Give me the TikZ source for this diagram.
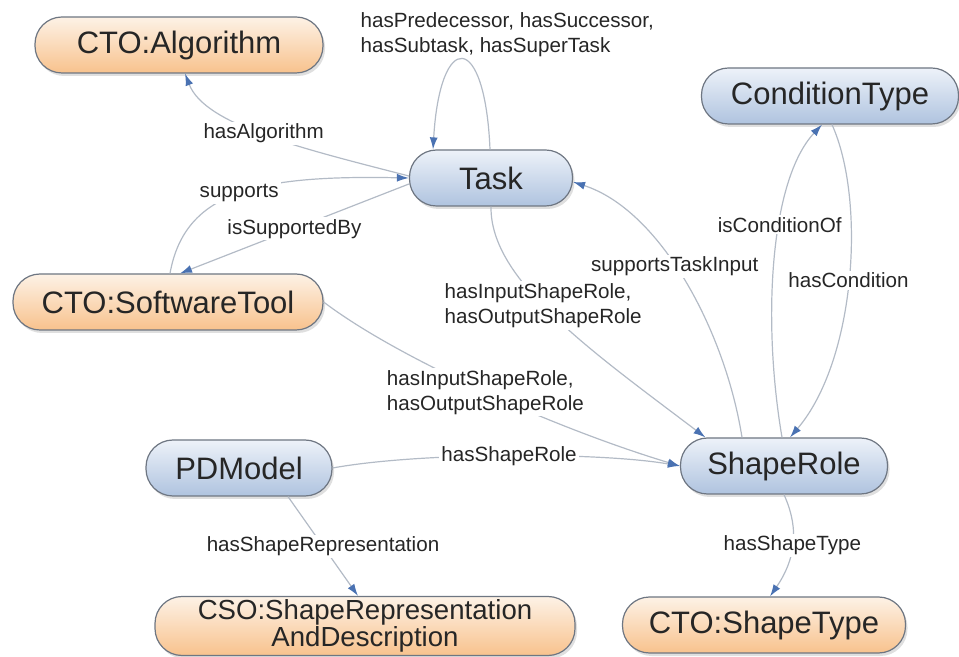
\documentclass[tikz,border=0pt]{standalone}
\usepackage{fontspec}
\setmainfont{Liberation Sans}
\usetikzlibrary{arrows.meta,shadows}
\definecolor{edgegray}{HTML}{B3BBC6}
\definecolor{tipblue}{HTML}{4A72B2}
\definecolor{bluetop}{HTML}{EDF2F9}
\definecolor{bluebot}{HTML}{AFC3DF}
\definecolor{orangetop}{HTML}{FDF2E6}
\definecolor{orangebot}{HTML}{F8C28D}
\definecolor{nodeline}{HTML}{6E7682}
\tikzset{>={Latex[length=6pt,width=4pt,color=tipblue]}}

\begin{document}
\begin{tikzpicture}[x=0.5pt,y=-0.5pt,
  classbox/.style={draw=nodeline, line width=0.6pt, rounded corners=13.5pt,
    minimum height=28pt, inner sep=0pt, top color=bluetop, bottom color=bluebot,
    drop shadow={shadow xshift=1pt, shadow yshift=-1.5pt, opacity=0.25, fill=gray},
    font=\fontsize{15.5}{17}\selectfont, text=black!85},
  extbox/.style={classbox, top color=orangetop, bottom color=orangebot},
  rel/.style={->, draw=edgegray, line width=0.6pt},
  lbl/.style={fill=white, inner sep=1pt, font=\fontsize{10.3}{12.5}\selectfont, text=black!85}]
\useasboundingbox (0,0) rectangle (959,657);

\node[extbox, minimum width=144pt] (alg) at (179,45) {CTO:Algorithm};
\node[classbox, minimum width=81.5pt] (task) at (491,178) {Task};
\node[classbox, minimum width=128.5pt] (cond) at (830,96) {ConditionType};
\node[extbox, minimum width=155pt] (tool) at (168,302) {CTO:SoftwareTool};
\node[classbox, minimum width=93pt] (pdm) at (239,468) {PDModel};
\node[classbox, minimum width=103.5pt] (role) at (784,466) {ShapeRole};
\node[extbox, minimum width=210pt, minimum height=29.5pt, align=center,
  font=\fontsize{13.8}{13.5}\selectfont] (rep) at (365,626) {CSO:ShapeRepresentation\\AndDescription};
\node[extbox, minimum width=141.5pt] (stype) at (764,625) {CTO:ShapeType};

\draw[rel] ([yshift=1pt]task.west) .. controls (300,148) and (205,125) .. ([xshift=3pt]alg.south)
  node[lbl, pos=0.5] {hasAlgorithm};
\draw[rel] ([xshift=-0.5pt]task.north) .. controls (485,30) and (440,30) .. ([xshift=-29pt]task.north)
  node[lbl, pos=0.5, above, xshift=22.5pt, align=left, fill=none] {hasPredecessor, hasSuccessor,\\hasSubtask, hasSuperTask};
\draw[rel] ([xshift=1pt]tool.north) .. controls (185,190) and (260,175) .. (task.west)
  node[lbl, pos=0.5] {supports};
\draw[rel] ([yshift=-3pt]task.west) -- ([xshift=6pt]tool.north)
  node[lbl, pos=0.5] {isSupportedBy};
\draw[rel] (task.south) .. controls (490,280) and (590,350) .. (role.160)
  node[lbl, pos=0.45, align=left] {hasInputShapeRole,\\hasOutputShapeRole};
\draw[rel] (tool.east) .. controls (400,360) and (560,430) .. (role.west)
  node[lbl, pos=0.5, align=left] {hasInputShapeRole,\\hasOutputShapeRole};
\draw[rel] (pdm.east) .. controls (420,452) and (600,452) .. (role.west)
  node[lbl, pos=0.5] {hasShapeRole};
\draw[rel] ([xshift=-21pt]role.north) .. controls (725,330) and (660,210) .. ([yshift=-2pt]task.east)
  node[lbl, pos=0.55] {supportsTaskInput};
\draw[rel] ([xshift=-1pt]role.north) .. controls (762,320) and (770,180) .. ([xshift=-4pt]cond.south)
  node[lbl, pos=0.6] {isConditionOf};
\draw[rel] ([xshift=1pt]cond.south) .. controls (866,200) and (856,360) .. ([xshift=3pt]role.north)
  node[lbl, pos=0.5] {hasCondition};
\draw[rel] ([xshift=24.5pt]pdm.south) -- ([xshift=-3.5pt]rep.north)
  node[lbl, pos=0.5] {hasShapeRepresentation};
\draw[rel] (role.south) .. controls (800,530) and (795,560) .. ([xshift=3pt]stype.north)
  node[lbl, pos=0.5] {hasShapeType};
\end{tikzpicture}
\end{document}
